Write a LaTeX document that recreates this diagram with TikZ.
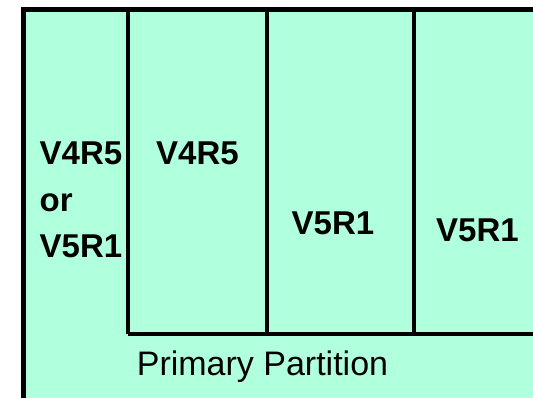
\documentclass[tikz,border=0pt]{standalone}
\usepackage{fontspec}
\setmainfont{Liberation Sans}
\definecolor{partfill}{RGB}{176,255,221}
\tikzset{
  outerline/.style={line width=5pt, line cap=rect},
  innerline/.style={line width=4pt},
  vlabel/.style={font=\fontsize{33}{38}\selectfont\bfseries, inner sep=0pt, anchor=base},
  plabel/.style={font=\fontsize{34}{38}\selectfont, inner sep=0pt, anchor=base}
}
\begin{document}
\begin{tikzpicture}[x=1pt,y=-1pt]
\useasboundingbox (0,0) rectangle (533,398);
\begin{scope}
\clip (0,0) rectangle (533,398);
% outer partition box
\coordinate (otl) at (23.5,9.5);
\coordinate (obr) at (560,430);
\fill[partfill] (otl) rectangle (obr);
\draw[outerline] (otl |- obr) -- (otl) -- (otl -| obr);
% inner partition lines
\coordinate (v1t) at (128.3,9.5);
\coordinate (v1b) at (128.3,333.5);
\coordinate (v2t) at (266.5,9.5);
\coordinate (v2b) at (266.5,333.5);
\coordinate (v3t) at (414,9.5);
\coordinate (v3b) at (414,333.5);
\coordinate (hr) at (560,333.5);
\draw[innerline] (v1t) -- (v1b);
\draw[innerline] (v2t) -- (v2b);
\draw[innerline] (v3t) -- (v3b);
\draw[innerline] (v1b) -- (hr);
\end{scope}
% labels
\node[vlabel, anchor=base west] (a1) at (39.5,165) {V4R5};
\node[vlabel, anchor=base west] (a2) at (39.5,212) {or};
\node[vlabel, anchor=base west] (a3) at (39.5,258) {V5R1};
\node[vlabel] (b) at (197.5,165) {V4R5};
\node[vlabel] (c) at (333,235) {V5R1};
\node[vlabel] (d) at (477.5,242) {V5R1};
\node[plabel] (p) at (262.5,375) {Primary Partition};
\end{tikzpicture}
\end{document}
